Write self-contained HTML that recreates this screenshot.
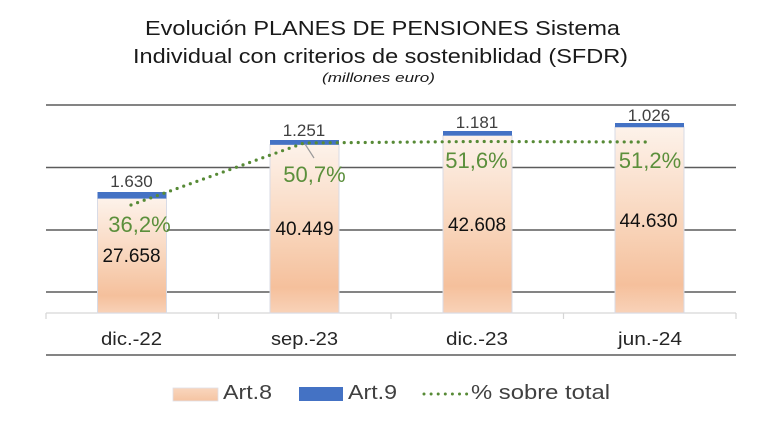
<!DOCTYPE html>
<html><head><meta charset="utf-8"><style>
html,body{margin:0;padding:0;background:#fff;}
svg{display:block;font-family:"Liberation Sans",Arial,sans-serif;}
</style></head><body>
<svg width="777" height="424" viewBox="0 0 777 424" xmlns="http://www.w3.org/2000/svg">
<defs>
<linearGradient id="g8" x1="0" y1="0" x2="0" y2="1">
<stop offset="0" stop-color="#fdf2ea"/>
<stop offset="0.55" stop-color="#f8d3b8"/>
<stop offset="0.85" stop-color="#f5c09c"/>
<stop offset="1" stop-color="#f8d2b8"/>
</linearGradient>
<linearGradient id="gl" x1="0" y1="0" x2="0" y2="1">
<stop offset="0" stop-color="#f9d6bd"/>
<stop offset="1" stop-color="#f5c4a2"/>
</linearGradient>
</defs>
<rect width="777" height="424" fill="#fff"/>
<!-- title -->
<text x="382.5" y="35" font-size="20.5" text-anchor="middle" fill="#1a1a1a" textLength="475" lengthAdjust="spacingAndGlyphs">Evolución PLANES DE PENSIONES Sistema</text>
<text x="380.5" y="63" font-size="20.5" text-anchor="middle" fill="#1a1a1a" textLength="495" lengthAdjust="spacingAndGlyphs">Individual con criterios de sosteniblidad (SFDR)</text>
<text x="378.5" y="82" font-size="13" font-style="italic" text-anchor="middle" fill="#1a1a1a" textLength="113" lengthAdjust="spacingAndGlyphs">(millones euro)</text>
<!-- gridlines -->
<g stroke="#5c5c5c" stroke-width="1.5">
<line x1="46" y1="105" x2="736" y2="105"/>
<line x1="46" y1="167.5" x2="736" y2="167.5"/>
<line x1="46" y1="230" x2="736" y2="230"/>
<line x1="46" y1="292" x2="736" y2="292"/>
<line x1="46" y1="355" x2="736" y2="355"/>
</g>
<!-- axis -->
<g stroke="#d6d6d6" stroke-width="1.2">
<line x1="46" y1="313" x2="736" y2="313"/>
<line x1="46" y1="313" x2="46" y2="319"/>
<line x1="218.5" y1="313" x2="218.5" y2="319"/>
<line x1="391" y1="313" x2="391" y2="319"/>
<line x1="563.5" y1="313" x2="563.5" y2="319"/>
<line x1="736" y1="313" x2="736" y2="319"/>
</g>
<!-- bars -->
<g stroke="#d8dbe6" stroke-width="1">
<rect x="97.5" y="198.5" width="69" height="114.5" fill="url(#g8)"/>
<rect x="270" y="144.5" width="69" height="168.5" fill="url(#g8)"/>
<rect x="443" y="135.5" width="69" height="177.5" fill="url(#g8)"/>
<rect x="615" y="127" width="69" height="186" fill="url(#g8)"/>
</g>
<g fill="#4472c4">
<rect x="97.5" y="192" width="69" height="6.5"/>
<rect x="270" y="140" width="69" height="4.8"/>
<rect x="443" y="131" width="69" height="4.6"/>
<rect x="615" y="123" width="69" height="4.2"/>
</g>
<!-- leader line -->
<line x1="305" y1="144" x2="314" y2="158" stroke="#9a9a9a" stroke-width="1.2"/>
<!-- dotted line -->
<polyline points="131,205 304,143 477,141.5 649,142" fill="none" stroke="#578a36" stroke-width="3.2" stroke-linecap="round" stroke-dasharray="0 7"/>
<!-- art9 labels -->
<g font-size="17" fill="#404040" text-anchor="middle">
<text x="131.5" y="187">1.630</text>
<text x="304" y="136">1.251</text>
<text x="477" y="128">1.181</text>
<text x="649" y="121">1.026</text>
</g>
<!-- pct labels -->
<g font-size="22" fill="#5b8f3b" text-anchor="middle">
<text x="139.5" y="232">36,2%</text>
<text x="314.5" y="182">50,7%</text>
<text x="476.5" y="168">51,6%</text>
<text x="650" y="168">51,2%</text>
</g>
<!-- art8 labels -->
<g font-size="19" fill="#111" text-anchor="middle">
<text x="131.5" y="262">27.658</text>
<text x="304.5" y="235">40.449</text>
<text x="477" y="231">42.608</text>
<text x="648.5" y="227">44.630</text>
</g>
<!-- category labels -->
<g font-size="18" fill="#262626" text-anchor="middle">
<text x="131.5" y="345" textLength="61" lengthAdjust="spacingAndGlyphs">dic.-22</text>
<text x="304.5" y="345" textLength="67" lengthAdjust="spacingAndGlyphs">sep.-23</text>
<text x="477" y="345" textLength="62" lengthAdjust="spacingAndGlyphs">dic.-23</text>
<text x="650" y="345" textLength="64" lengthAdjust="spacingAndGlyphs">jun.-24</text>
</g>
<!-- legend -->
<rect x="173" y="388" width="45" height="13" fill="url(#gl)" stroke="#e0dfe6" stroke-width="0.8"/>
<text x="223" y="399" font-size="20" fill="#404040" textLength="49" lengthAdjust="spacingAndGlyphs">Art.8</text>
<rect x="299" y="387" width="44" height="14" fill="#4472c4"/>
<text x="348" y="399" font-size="20" fill="#404040" textLength="49" lengthAdjust="spacingAndGlyphs">Art.9</text>
<line x1="424" y1="394" x2="467" y2="394" stroke="#578a36" stroke-width="3" stroke-linecap="round" stroke-dasharray="0 7.1"/>
<text x="471" y="399" font-size="20" fill="#404040" textLength="139" lengthAdjust="spacingAndGlyphs">% sobre total</text>
</svg>
</body></html>
